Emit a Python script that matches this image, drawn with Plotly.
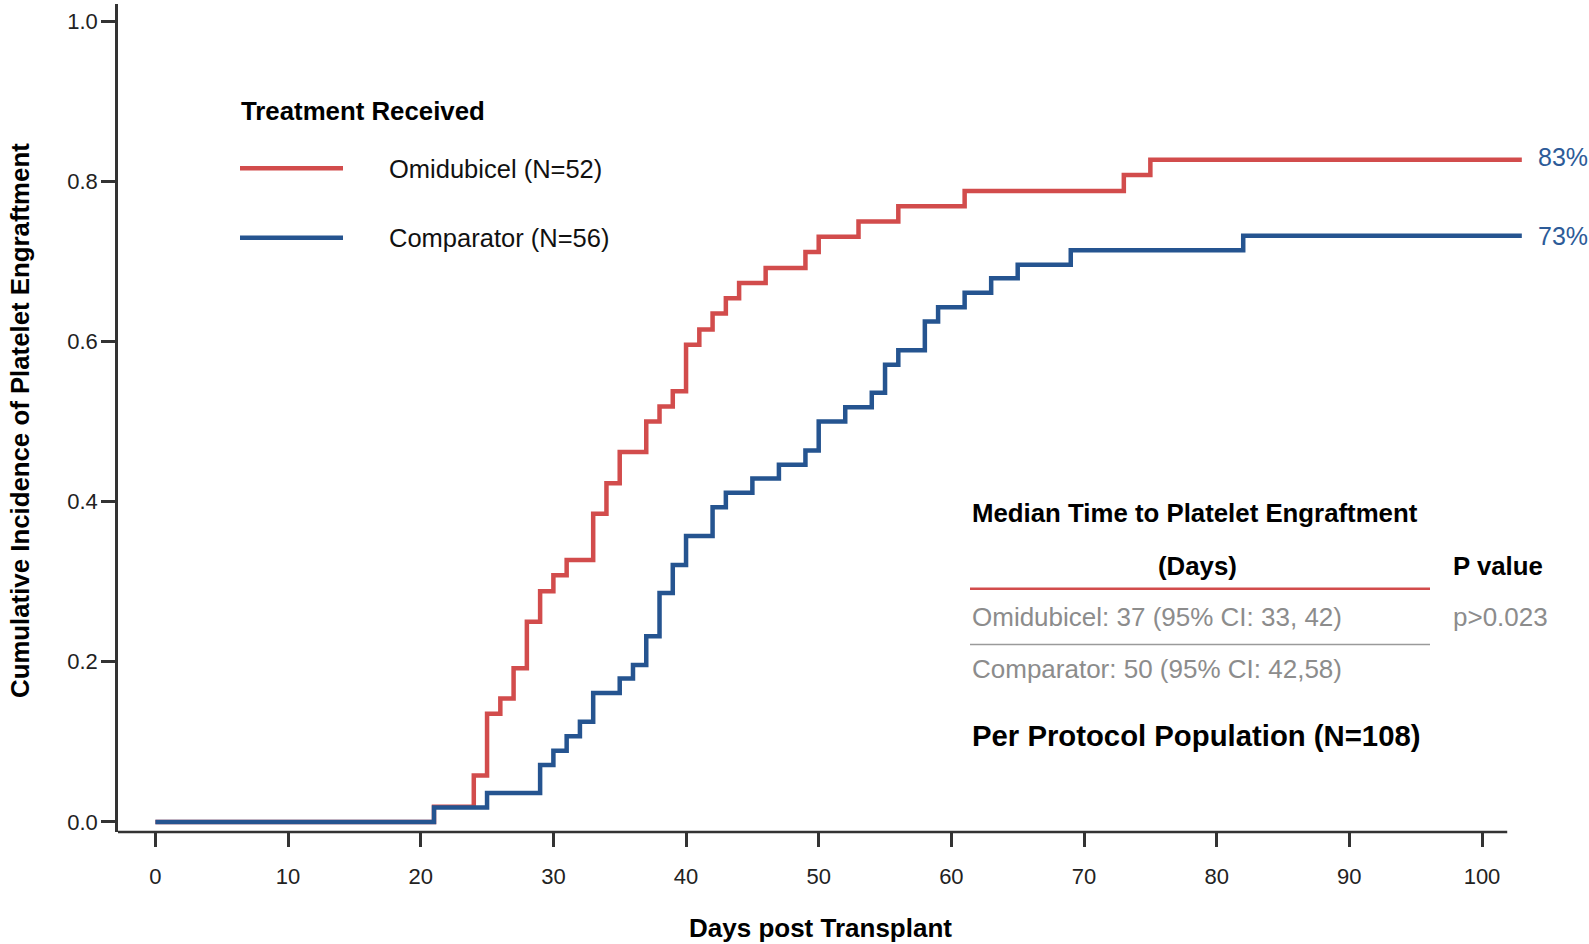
import plotly.graph_objects as go

# ---------------- data ----------------
omi_days = [0, 21, 24, 25, 26, 27, 28, 29, 30, 31, 33, 34, 35, 37, 38, 39, 40, 41, 42, 43,
            44, 46, 49, 50, 53, 56, 61, 73, 75, 103]
omi_ci = [0, 0.019, 0.058, 0.135, 0.154, 0.192, 0.250, 0.288, 0.308, 0.327, 0.385, 0.423,
          0.462, 0.500, 0.519, 0.538, 0.596, 0.615, 0.635, 0.654, 0.673, 0.692, 0.712,
          0.731, 0.750, 0.769, 0.788, 0.808, 0.827, 0.827]

comp_days = [0, 21, 25, 29, 30, 31, 32, 33, 35, 36, 37, 38, 39, 40, 42, 43, 45, 47, 49, 50,
             52, 54, 55, 56, 58, 59, 61, 63, 65, 69, 82, 103]
comp_ci = [0, 0.018, 0.036, 0.071, 0.089, 0.107, 0.125, 0.161, 0.179, 0.196, 0.232, 0.286,
           0.321, 0.357, 0.393, 0.411, 0.429, 0.446, 0.464, 0.500, 0.518, 0.536, 0.571,
           0.589, 0.625, 0.643, 0.661, 0.679, 0.696, 0.714, 0.732, 0.732]

x_ticks = [0, 10, 20, 30, 40, 50, 60, 70, 80, 90, 100]
y_ticks = [0.0, 0.2, 0.4, 0.6, 0.8, 1.0]

series_names = ["Omidubicel (N=52)", "Comparator (N=56)"]
end_labels = ["83%", "73%"]
table_header = "Median Time to Platelet Engraftment"
table_sub = "(Days)"
pval_header = "P value"
row_omi = "Omidubicel: 37 (95% CI: 33, 42)"
row_comp = "Comparator: 50 (95% CI: 42,58)"
pval_text = "p>0.023"
population = "Per Protocol Population (N=108)"

# ---------------- styles ----------------
RED = "#D24C4C"
BLUE = "#255490"
LBLUE = "#2D5B98"
GRAY = "#8C8C8C"
AX = "#333333"
FONT = "Liberation Sans, Arial, sans-serif"

W_FIG, H_FIG = 1589, 944
ML, MR, MT, MB = 118, 54, 4, 112
PW = W_FIG - ML - MR
PH = H_FIG - MT - MB


def px(xp):
    return (xp - ML) / PW


def py(yp):
    return (H_FIG - MB - yp) / PH


fig = go.Figure()
fig.add_trace(go.Scatter(x=omi_days, y=omi_ci, mode="lines", line=dict(color=RED, width=4.5, shape="hv"),
                         name=series_names[0], showlegend=False, hoverinfo="skip"))
fig.add_trace(go.Scatter(x=comp_days, y=comp_ci, mode="lines", line=dict(color=BLUE, width=4.5, shape="hv"),
                         name=series_names[1], showlegend=False, hoverinfo="skip"))

shapes = []
# x axis line (ends before plot right edge)
shapes.append(dict(type="line", xref="x", yref="paper", x0=-2.82, x1=101.9, y0=0, y1=0,
                   line=dict(color=AX, width=2.5)))
# legend lines
shapes.append(dict(type="line", xref="paper", yref="paper", x0=px(240), x1=px(343), y0=py(168.3), y1=py(168.3),
                   line=dict(color=RED, width=4.5)))
shapes.append(dict(type="line", xref="paper", yref="paper", x0=px(240), x1=px(343), y0=py(237.7), y1=py(237.7),
                   line=dict(color=BLUE, width=4.5)))
# table lines
shapes.append(dict(type="line", xref="paper", yref="paper", x0=px(970), x1=px(1430), y0=py(588.8), y1=py(588.8),
                   line=dict(color=RED, width=2.5)))
shapes.append(dict(type="line", xref="paper", yref="paper", x0=px(970), x1=px(1430), y0=py(644.5), y1=py(644.5),
                   line=dict(color="#9A9A9A", width=1.5)))

ann = []


def A(text, x, y, size, color="black", bold=False, xanchor="left", angle=0):
    t = f"<b>{text}</b>" if bold else text
    ann.append(dict(text=t, xref="paper", yref="paper", x=px(x), y=py(y), xanchor=xanchor, yanchor="middle",
                    showarrow=False, textangle=angle, font=dict(family=FONT, size=size, color=color)))


A("Treatment Received", 239, 110.5, 25.8, bold=True)
A(series_names[0], 387, 168.5, 25.5, color="#111111")
A(series_names[1], 387, 238, 25.5, color="#111111")
A(end_labels[0], 1536, 157, 25, color=LBLUE)
A(end_labels[1], 1536, 235.5, 25, color=LBLUE)
A(table_header, 970, 513, 25.8, bold=True)
A(table_sub, 1197, 565.5, 25.8, bold=True, xanchor="center")
A(pval_header, 1451, 565.5, 25.8, bold=True)
A(row_omi, 970, 617, 26, color=GRAY)
A(pval_text, 1451, 617, 26, color=GRAY)
A(row_comp, 970, 669, 26, color=GRAY)
A(population, 970, 735, 29.3, bold=True)
A("Days post Transplant", 820, 928, 26, bold=True, xanchor="center")
A("Cumulative Incidence of Platelet Engraftment", 20, 421, 25.8, bold=True, xanchor="center", angle=-90)

fig.update_layout(
    width=W_FIG, height=H_FIG,
    margin=dict(l=ML, r=MR, t=MT, b=MB, pad=0),
    paper_bgcolor="white", plot_bgcolor="white",
    shapes=shapes, annotations=ann,
    font=dict(family=FONT),
    xaxis=dict(range=[-2.82, -2.82 + PW / 13.266], tickvals=x_ticks, ticktext=[str(v) for v in x_ticks],
               ticks="outside", ticklen=14, tickwidth=2.5, tickcolor=AX, showline=False,
               showgrid=False, zeroline=False, ticklabelstandoff=11,
               tickfont=dict(family=FONT, size=22, color="#222222")),
    yaxis=dict(range=[-0.0126, -0.0126 + PH / 800.6], tickvals=y_ticks, tickformat=".1f",
               ticks="outside", ticklen=14, tickwidth=2.5, tickcolor=AX, showline=True,
               linewidth=2.5, linecolor=AX, showgrid=False, zeroline=False, ticklabelstandoff=-1,
               tickfont=dict(family=FONT, size=22, color="#222222")),
)

fig.write_html("out.html")
